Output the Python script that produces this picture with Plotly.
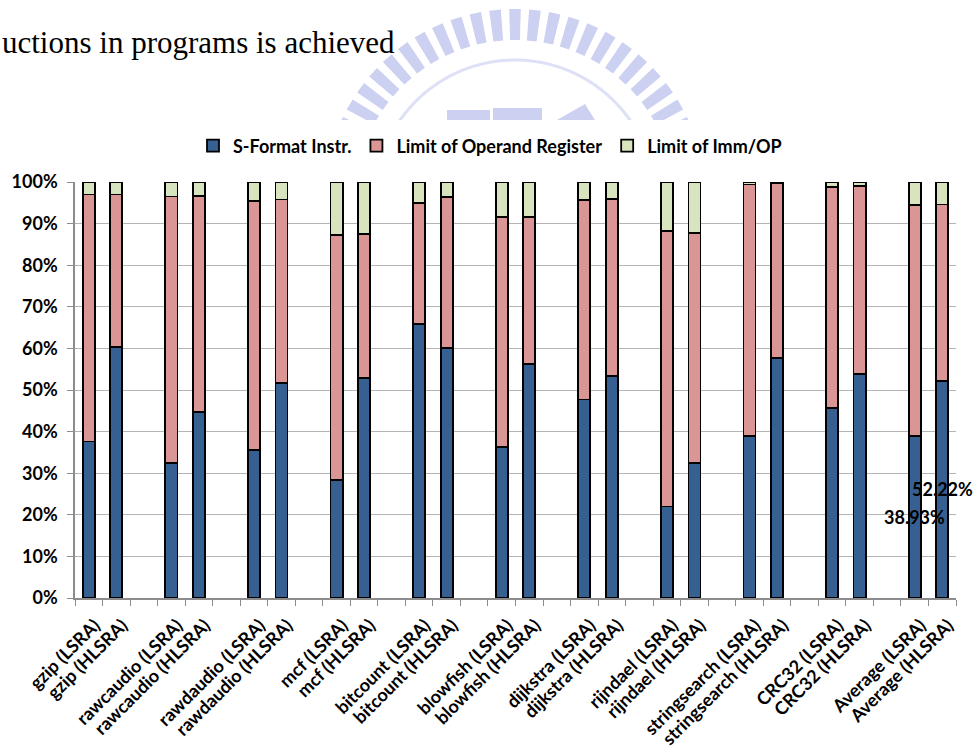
import math
import plotly.graph_objects as go

# Benchmarks, each measured under LSRA and HLSRA
benchmarks = ["gzip", "rawcaudio", "rawdaudio", "mcf", "bitcount", "blowfish",
              "dijkstra", "rijndael", "stringsearch", "CRC32", "Average"]
allocators = ["LSRA", "HLSRA"]

# Share of instructions (%) per bar, in the order gzip (LSRA), gzip (HLSRA), ...
s_format = [37.6, 60.3, 32.4, 44.8, 35.5, 51.6, 28.4, 52.9, 65.9, 60.1, 36.3,
            56.2, 47.7, 53.3, 22.0, 32.4, 39.0, 57.6, 45.7, 53.9, 38.93, 52.22]
operand_reg = [59.4, 36.7, 64.1, 51.8, 59.9, 44.2, 58.9, 34.6, 29.1, 36.2, 55.3,
               35.4, 47.9, 42.6, 66.3, 55.4, 60.4, 42.2, 53.1, 45.1, 55.47, 42.38]
imm_op = [3.0, 3.0, 3.5, 3.4, 4.6, 4.2, 12.7, 12.5, 5.0, 3.7, 8.4,
          8.4, 4.4, 4.1, 11.7, 12.2, 0.6, 0.2, 1.2, 1.0, 5.6, 5.4]

y_ticks = [0, 10, 20, 30, 40, 50, 60, 70, 80, 90, 100]
y_tick_text = ["0%", "10%", "20%", "30%", "40%", "50%", "60%", "70%", "80%", "90%", "100%"]

# bar labels and the category order with an empty slot between benchmarks
bar_labels = [f"{b} ({a})" for b in benchmarks for a in allocators]
category_order = []
for i, b in enumerate(benchmarks):
    category_order += [f"{b} ({a})" for a in allocators]
    if i < len(benchmarks) - 1:
        category_order.append(" " * (i + 1))

W, H = 973, 749
L, R, T, B = 75, 17, 182, 151
PW, PH = W - L - R, H - T - B


def px(x):
    return (x - L) / PW


def py(y):
    return (H - B - y) / PH


BLUE, PINK, GREEN = "#376092", "#d99694", "#d7e4bd"
bold = dict(family="Lato", weight="bold", color="black")

fig = go.Figure()
for name, vals, col in [("S-Format Instr.", s_format, BLUE),
                        ("Limit of Operand Register", operand_reg, PINK),
                        ("Limit of Imm/OP", imm_op, GREEN)]:
    fig.add_trace(go.Bar(
        x=bar_labels, y=vals, name=name, width=0.44,
        marker=dict(color=col, line=dict(color="black", width=1.8)),
        hoverinfo="skip",
    ))

# value labels on the two average bars
annotations = []
for lab, v in [(bar_labels[-2], s_format[-2]), (bar_labels[-1], s_format[-1])]:
    annotations.append(dict(x=lab, y=v / 2, xref="x", yref="y", text=f"{v:.2f}%",
                            showarrow=False, font=dict(size=18, **bold)))

# slide caption running off the left edge
annotations.append(dict(x=px(0), y=py(42), xref="paper", yref="paper", xanchor="left",
                        yanchor="middle", text="uctions in programs is achieved",
                        showarrow=False,
                        font=dict(family="Liberation Serif", size=31, color="black")))

# faint emblem behind the slide header
shapes = []
WM = "#ccd1f2"
cx, cy, r_in, r_out = 515, 200, 160, 191


def path(points):
    return "M" + " L".join(f"{px(x):.5f},{py(y):.5f}" for x, y in points) + " Z"


ang = 18.0
while ang <= 162.0:
    a0, a1 = math.radians(ang - 1.75), math.radians(ang + 1.75)
    pts = [(cx + r_in * math.cos(a0), cy - r_in * math.sin(a0)),
           (cx + r_out * math.cos(a0), cy - r_out * math.sin(a0)),
           (cx + r_out * math.cos(a1), cy - r_out * math.sin(a1)),
           (cx + r_in * math.cos(a1), cy - r_in * math.sin(a1))]
    shapes.append(dict(type="path", path=path(pts), xref="paper", yref="paper",
                       fillcolor=WM, line=dict(width=0), layer="below"))
    ang += 6.0

arc = [(cx + 140 * math.cos(math.radians(a)), cy - 140 * math.sin(math.radians(a)))
       for a in range(25, 156, 3)]
shapes.append(dict(type="path", xref="paper", yref="paper", layer="below",
                   path="M" + " L".join(f"{px(x):.5f},{py(y):.5f}" for x, y in arc),
                   line=dict(color="#dde0f6", width=3)))
for pts in [[(447, 110), (490, 110), (490, 125), (447, 125)],
            [(493, 108), (542, 108), (542, 125), (493, 125)],
            [(548, 125), (585, 104), (598, 125)]]:
    shapes.append(dict(type="path", path=path(pts), xref="paper", yref="paper",
                       fillcolor=WM, line=dict(width=0), layer="below"))
# white chart area over the lower part of the emblem
shapes.append(dict(type="rect", xref="paper", yref="paper", layer="below",
                   x0=px(0), x1=px(W), y0=py(120), y1=py(H),
                   fillcolor="white", line=dict(width=0)))

fig.update_layout(
    width=W, height=H,
    margin=dict(l=L, r=R, t=T, b=B, autoexpand=False),
    barmode="stack",
    paper_bgcolor="white", plot_bgcolor="rgba(0,0,0,0)",
    font=dict(family="Lato", size=18, color="black"),
    showlegend=True,
    legend=dict(orientation="h", xref="container", yref="container",
                x=490 / W, y=1 - 146 / H, xanchor="center", yanchor="middle",
                font=dict(size=18, **bold), traceorder="normal"),
    xaxis=dict(type="category", categoryorder="array", categoryarray=category_order,
               range=[-0.5, len(category_order) - 0.5],
               tickson="boundaries", ticks="outside", ticklen=6, tickcolor="#8c8c8c",
               showline=True, linecolor="#8c8c8c", linewidth=1.5, showgrid=False,
               tickangle=-45, ticklabelstandoff=8, ticklabelshift=6,
               tickfont=dict(size=18, **bold)),
    yaxis=dict(range=[0, 100], tickmode="array", tickvals=y_ticks, ticktext=y_tick_text,
               ticks="outside", ticklen=6, tickcolor="#8c8c8c",
               showline=True, linecolor="#8c8c8c", linewidth=1.5,
               showgrid=True, gridcolor="#b4b4b4", gridwidth=1.2, zeroline=False,
               ticklabelstandoff=6, tickfont=dict(size=18, **bold)),
    annotations=annotations,
    shapes=shapes,
)

fig.write_html("out.html")
